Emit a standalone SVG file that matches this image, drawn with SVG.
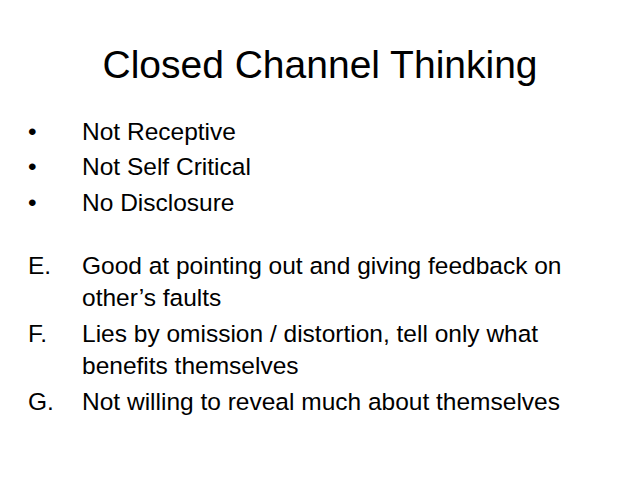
<svg xmlns="http://www.w3.org/2000/svg" width="638" height="478" viewBox="0 0 638 478">
<style>
text{font-family:"Liberation Sans",Arial,sans-serif;fill:#000}
.b{font-size:24.5px}
</style>
<rect width="638" height="478" fill="#fff"/>
<text x="320" y="78" font-size="39" text-anchor="middle">Closed Channel Thinking</text>
<g class="b">
<text x="28" y="140">•</text><text x="82" y="140">Not Receptive</text>
<text x="28" y="175">•</text><text x="82" y="175">Not Self Critical</text>
<text x="28" y="211">•</text><text x="82" y="211">No Disclosure</text>
<text x="28" y="274">E.</text><text x="82" y="274">Good at pointing out and giving feedback on</text>
<text x="82" y="306">other’s faults</text>
<text x="28" y="342">F.</text><text x="82" y="342">Lies by omission / distortion, tell only what</text>
<text x="82" y="374">benefits themselves</text>
<text x="28" y="410">G.</text><text x="82" y="410">Not willing to reveal much about themselves</text>
</g>
</svg>
